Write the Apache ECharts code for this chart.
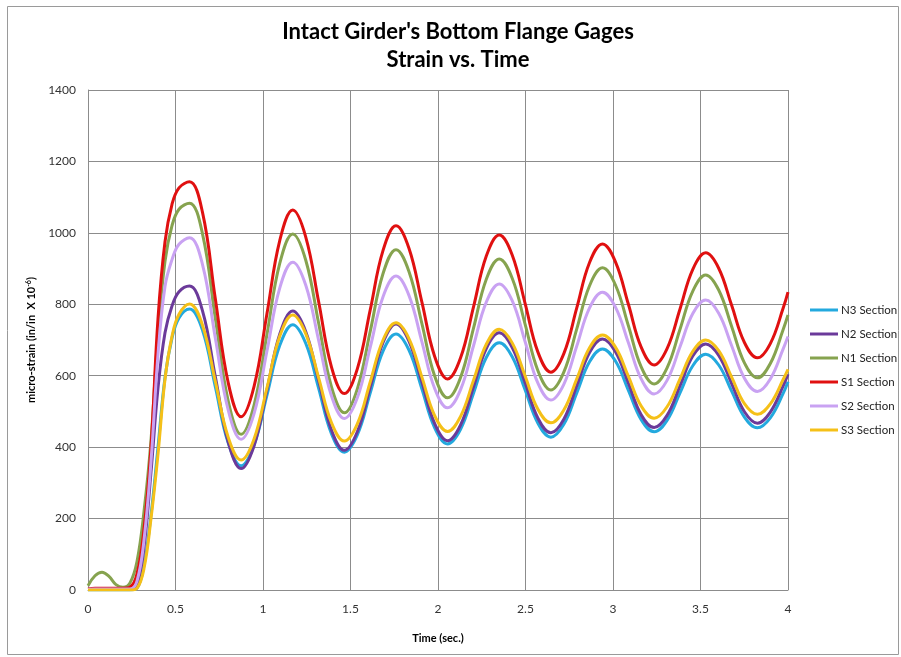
<!DOCTYPE html>
<html>
<head>
<meta charset="utf-8">
<script src="https://cdn.jsdelivr.net/npm/echarts@6/dist/echarts.min.js"></script>
<style>
  html, body { margin: 0; padding: 0; background: #ffffff; }
  #chart { width: 901px; height: 657px; }
</style>
</head>
<body>
<div id="chart"></div>
<script>
// Sample times (sec.)
const times = [
  0, 0.04, 0.08, 0.12, 0.16, 0.2, 0.24, 0.28, 0.32, 0.36, 0.40, 0.44, 0.48, 0.52,
  0.58, 0.654, 0.728, 0.801, 0.875, 0.949, 1.023, 1.096,
  1.17, 1.244, 1.318, 1.391, 1.465, 1.539, 1.613, 1.686,
  1.76, 1.834, 1.908, 1.981, 2.055, 2.129, 2.203, 2.276,
  2.35, 2.424, 2.498, 2.571, 2.645, 2.719, 2.793, 2.866,
  2.94, 3.014, 3.088, 3.161, 3.235, 3.309, 3.383, 3.456,
  3.53, 3.604, 3.678, 3.751, 3.825, 3.899, 3.973, 4.0
];

// Micro-strain per gage section
const n3Section = [
  0, 0, 0, 0, 0, 0, 0, 5, 70, 210, 400, 595, 705, 762,
  787, 728, 568, 412, 348, 406, 546, 685,
  743, 691, 565, 438, 386, 434, 552, 669,
  717, 672, 563, 454, 409, 450, 551, 651,
  692, 653, 560, 467, 428, 464, 552, 639,
  675, 641, 559, 477, 443, 475, 552, 628,
  660, 630, 557, 484, 454, 482, 551, 583
];
const n2Section = [
  2, 2, 2, 2, 2, 2, 2, 15, 120, 330, 565, 720, 795, 835,
  851, 782, 596, 415, 340, 404, 561, 717,
  781, 724, 586, 448, 391, 443, 568, 693,
  745, 697, 582, 466, 418, 462, 569, 676,
  720, 679, 580, 481, 440, 478, 572, 665,
  703, 667, 579, 491, 455, 489, 572, 655,
  689, 657, 578, 499, 467, 498, 572, 604
];
const n1Section = [
  12, 40, 50, 38, 15, 8, 20, 80, 220, 420, 720, 920, 1020, 1066,
  1083, 998, 760, 530, 436, 518, 717, 915,
  997, 924, 747, 569, 496, 563, 725, 886,
  953, 892, 746, 599, 538, 595, 733, 870,
  927, 873, 744, 614, 560, 610, 731, 852,
  902, 854, 740, 625, 577, 622, 730, 837,
  882, 840, 738, 636, 594, 634, 730, 770
];
const s1Section = [
  3, 5, 5, 5, 5, 5, 8, 45, 170, 400, 760, 975, 1080, 1126,
  1143, 1058, 814, 581, 485, 570, 775, 979,
  1064, 989, 807, 625, 550, 619, 785, 951,
  1020, 957, 806, 654, 591, 650, 793, 935,
  994, 938, 802, 666, 610, 662, 790, 917,
  969, 919, 800, 680, 630, 676, 787, 898,
  944, 901, 797, 693, 650, 690, 790, 834
];
const s2Section = [
  2, 3, 3, 3, 3, 3, 3, 25, 140, 360, 660, 850, 925, 968,
  986, 912, 704, 504, 422, 494, 670, 846,
  918, 854, 699, 544, 480, 538, 680, 821,
  879, 825, 695, 564, 510, 561, 684, 806,
  857, 810, 695, 579, 532, 576, 683, 790,
  834, 792, 692, 591, 549, 587, 681, 774,
  812, 775, 684, 593, 556, 591, 676, 710
];
const s3Section = [
  0, 0, 0, 0, 0, 0, 0, 5, 60, 200, 380, 590, 710, 772,
  801, 742, 583, 428, 364, 423, 567, 711,
  770, 718, 594, 469, 417, 465, 583, 700,
  748, 704, 596, 488, 444, 486, 587, 688,
  730, 692, 599, 506, 468, 504, 591, 678,
  714, 680, 598, 515, 481, 513, 591, 668,
  700, 670, 596, 522, 492, 521, 590, 618
];

const seriesNames = ['N3 Section', 'N2 Section', 'N1 Section', 'S1 Section', 'S2 Section', 'S3 Section'];
const seriesValues = [n3Section, n2Section, n1Section, s1Section, s2Section, s3Section];
const seriesColors = ['#23a9de', '#6b3a9a', '#86a34f', '#e01010', '#c9a2f2', '#f5c018'];

const xTicks = { min: 0, max: 4, interval: 0.5 };
const yTicks = { min: 0, max: 1400, interval: 200 };

const chart = echarts.init(document.getElementById('chart'), null, { renderer: 'canvas' });

const FONT = 'Lato, "Liberation Sans", sans-serif';

chart.setOption({
  animation: false,
  backgroundColor: '#ffffff',
  graphic: [
    {
      type: 'rect',
      shape: { x: 7.5, y: 6.5, width: 891, height: 648 },
      style: { fill: 'none', stroke: '#9a9a9a', lineWidth: 1 },
      silent: true
    },
    {
      type: 'text',
      x: 458, y: 21,
      style: {
        text: "Intact Girder's Bottom Flange Gages",
        font: 'bold 22px ' + FONT,
        fill: '#000000',
        textAlign: 'center'
      }
    },
    {
      type: 'text',
      x: 458, y: 49,
      style: {
        text: 'Strain vs. Time',
        font: 'bold 22px ' + FONT,
        fill: '#000000',
        textAlign: 'center'
      }
    }
  ],
  grid: { left: 88, right: 113, top: 90, bottom: 67, containLabel: false },
  legend: {
    orient: 'vertical',
    left: 805,
    top: 298,
    itemWidth: 28,
    itemHeight: 3,
    itemGap: 10,
    icon: 'rect',
    textStyle: { fontFamily: FONT, fontSize: 11.5, color: '#222222', lineHeight: 14, padding: [0, 0, 0, -2] },
    data: seriesNames
  },
  xAxis: {
    type: 'value',
    min: xTicks.min, max: xTicks.max, interval: xTicks.interval,
    name: 'Time (sec.)',
    nameLocation: 'middle',
    nameGap: 43,
    nameTextStyle: { fontFamily: FONT, fontSize: 11, fontWeight: 'bold', color: '#000000' },
    axisLine: { show: true, lineStyle: { color: '#8c8c8c', width: 1 } },
    axisTick: { show: false },
    axisLabel: { fontFamily: FONT, fontSize: 12, color: '#333333', margin: 13 },
    splitLine: { show: true, lineStyle: { color: '#8c8c8c', width: 1 } }
  },
  yAxis: {
    type: 'value',
    min: yTicks.min, max: yTicks.max, interval: yTicks.interval,
    name: 'micro-strain (in/in  X 10{sup|-6})',
    nameLocation: 'middle',
    nameGap: 50,
    nameTextStyle: {
      fontFamily: FONT, fontSize: 11, fontWeight: 'bold', color: '#000000',
      rich: { sup: { fontFamily: FONT, fontSize: 7, fontWeight: 'bold', color: '#000000', verticalAlign: 'top', padding: [0, 0, 6, 0] } }
    },
    axisLine: { show: true, lineStyle: { color: '#8c8c8c', width: 1 } },
    axisTick: { show: false },
    axisLabel: { fontFamily: FONT, fontSize: 12, color: '#333333', margin: 12, formatter: (v) => String(v) },
    splitLine: { show: true, lineStyle: { color: '#8c8c8c', width: 1 } }
  },
  series: seriesNames.map((name, i) => ({
    name: name,
    type: 'line',
    data: times.map((t, j) => [t, seriesValues[i][j]]),
    smooth: 0.4,
    showSymbol: false,
    symbol: 'none',
    color: seriesColors[i],
    lineStyle: { color: seriesColors[i], width: 3 },
    z: 2 + i
  }))
});
</script>
</body>
</html>
